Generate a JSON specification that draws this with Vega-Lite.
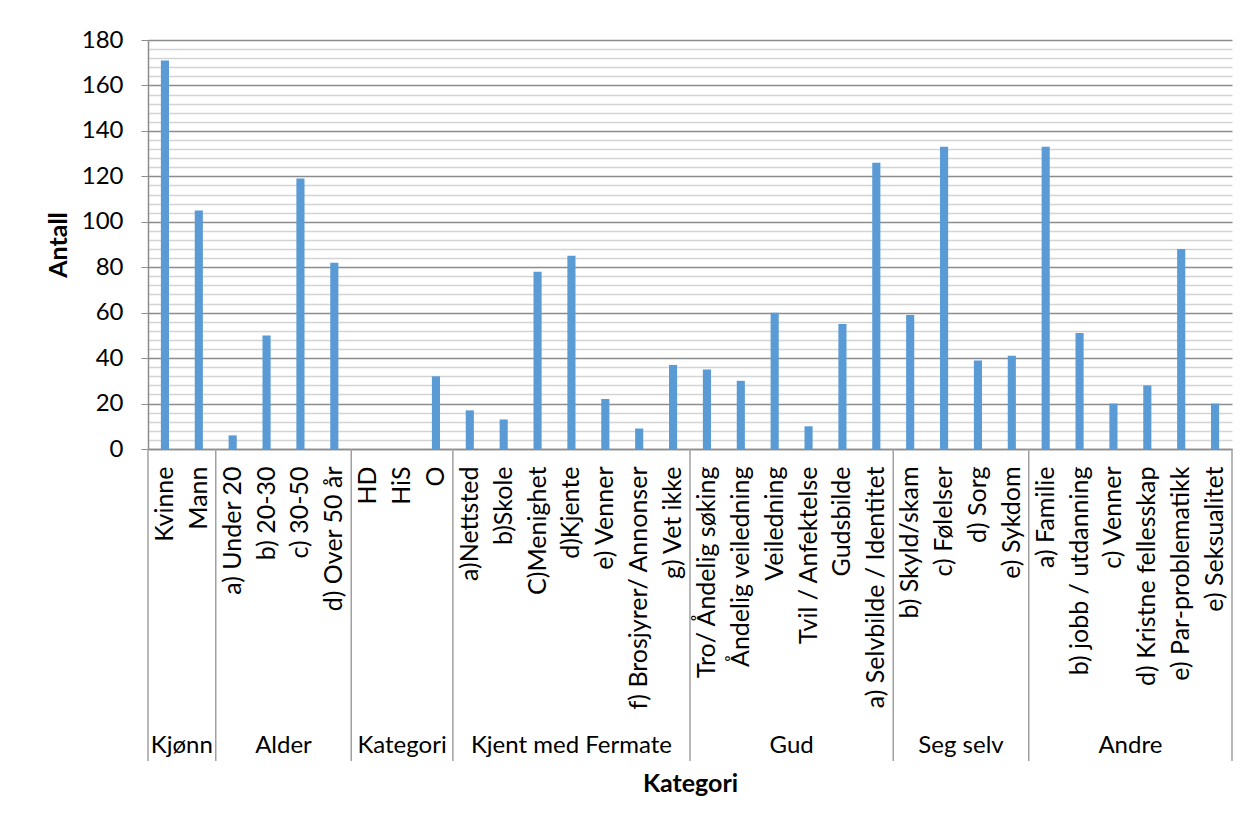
{
  "$schema": "https://vega.github.io/schema/vega-lite/v6.json",
  "width": 1084,
  "height": 409,
  "autosize": {"type": "none"},
  "padding": {"left": 148, "top": 40, "right": 20, "bottom": 376},
  "background": "white",
  "config": {
    "font": "Lato",
    "view": {"stroke": null}
  },
  "resolve": {"axis": {"x": "independent", "y": "independent"}},
  "datasets": {
    "antall": [
      {"gruppe": "Kjønn", "kategori": "Kvinne", "antall": 171},
      {"gruppe": "Kjønn", "kategori": "Mann", "antall": 105},
      {"gruppe": "Alder", "kategori": "a) Under 20", "antall": 6},
      {"gruppe": "Alder", "kategori": "b) 20-30", "antall": 50},
      {"gruppe": "Alder", "kategori": "c) 30-50", "antall": 119},
      {"gruppe": "Alder", "kategori": "d) Over 50 år", "antall": 82},
      {"gruppe": "Kategori", "kategori": "HD", "antall": 0},
      {"gruppe": "Kategori", "kategori": "HiS", "antall": 0},
      {"gruppe": "Kategori", "kategori": "O", "antall": 32},
      {"gruppe": "Kjent med Fermate", "kategori": "a)Nettsted", "antall": 17},
      {"gruppe": "Kjent med Fermate", "kategori": "b)Skole", "antall": 13},
      {"gruppe": "Kjent med Fermate", "kategori": "C)Menighet", "antall": 78},
      {"gruppe": "Kjent med Fermate", "kategori": "d)Kjente", "antall": 85},
      {"gruppe": "Kjent med Fermate", "kategori": "e) Venner", "antall": 22},
      {"gruppe": "Kjent med Fermate", "kategori": "f) Brosjyrer/ Annonser", "antall": 9},
      {"gruppe": "Kjent med Fermate", "kategori": "g) Vet ikke", "antall": 37},
      {"gruppe": "Gud", "kategori": "Tro/ Åndelig søking", "antall": 35},
      {"gruppe": "Gud", "kategori": "Åndelig veiledning", "antall": 30},
      {"gruppe": "Gud", "kategori": "Veiledning", "antall": 60},
      {"gruppe": "Gud", "kategori": "Tvil / Anfektelse", "antall": 10},
      {"gruppe": "Gud", "kategori": "Gudsbilde", "antall": 55},
      {"gruppe": "Gud", "kategori": "a) Selvbilde / Identitet", "antall": 126},
      {"gruppe": "Seg selv", "kategori": "b) Skyld/skam", "antall": 59},
      {"gruppe": "Seg selv", "kategori": "c) Følelser", "antall": 133},
      {"gruppe": "Seg selv", "kategori": "d) Sorg", "antall": 39},
      {"gruppe": "Seg selv", "kategori": "e) Sykdom", "antall": 41},
      {"gruppe": "Andre", "kategori": "a) Familie", "antall": 133},
      {"gruppe": "Andre", "kategori": "b) jobb  / utdanning", "antall": 51},
      {"gruppe": "Andre", "kategori": "c) Venner", "antall": 20},
      {"gruppe": "Andre", "kategori": "d) Kristne fellesskap", "antall": 28},
      {"gruppe": "Andre", "kategori": "e) Par-problematikk", "antall": 88},
      {"gruppe": "Andre", "kategori": "e) Seksualitet", "antall": 20}
    ],
    "gruppestart": [
      {"kategori": "Kvinne"},
      {"kategori": "a) Under 20"},
      {"kategori": "HD"},
      {"kategori": "a)Nettsted"},
      {"kategori": "Tro/ Åndelig søking"},
      {"kategori": "b) Skyld/skam"},
      {"kategori": "a) Familie"}
    ],
    "gruppeslutt": [
      {"kategori": "e) Seksualitet"}
    ],
    "gruppenavn_par": [
      {"gruppe": "Kjønn", "kategori": "Mann"},
      {"gruppe": "Alder", "kategori": "c) 30-50"},
      {"gruppe": "Gud", "kategori": "Tvil / Anfektelse"},
      {"gruppe": "Seg selv", "kategori": "d) Sorg"},
      {"gruppe": "Andre", "kategori": "d) Kristne fellesskap"}
    ],
    "gruppenavn_odde": [
      {"gruppe": "Kategori", "kategori": "HiS"},
      {"gruppe": "Kjent med Fermate", "kategori": "d)Kjente"}
    ]
  },
  "layer": [
    {
      "data": {"name": "antall"},
      "mark": {"type": "bar", "color": "#5B9BD5", "width": {"band": 0.24}},
      "encoding": {
        "x": {
          "field": "kategori",
          "type": "nominal",
          "sort": null,
          "scale": {
            "paddingInner": 0,
            "paddingOuter": 0,
            "domain": ["Kvinne", "Mann", "a) Under 20", "b) 20-30", "c) 30-50", "d) Over 50 år", "HD", "HiS", "O", "a)Nettsted", "b)Skole", "C)Menighet", "d)Kjente", "e) Venner", "f) Brosjyrer/ Annonser", "g) Vet ikke", "Tro/ Åndelig søking", "Åndelig veiledning", "Veiledning", "Tvil / Anfektelse", "Gudsbilde", "a) Selvbilde / Identitet", "b) Skyld/skam", "c) Følelser", "d) Sorg", "e) Sykdom", "a) Familie", "b) jobb  / utdanning", "c) Venner", "d) Kristne fellesskap", "e) Par-problematikk", "e) Seksualitet"]
          },
          "axis": {
            "title": "Kategori",
            "titleFontSize": 25,
            "titleFontWeight": "bold",
            "titleColor": "#000000",
            "titleY": 334,
            "titleBaseline": "middle",
            "labelAngle": -90,
            "labelFontSize": 25,
            "labelColor": "#000000",
            "labelLimit": 400,
            "labelPadding": 17,
            "ticks": false,
            "tickSize": 0,
            "domainColor": "#8c8c8c",
            "domainWidth": 1.5
          }
        },
        "y": {
          "field": "antall",
          "type": "quantitative",
          "scale": {"domain": [0, 180], "nice": false, "zero": true},
          "axis": {
            "title": "Antall",
            "titleFontSize": 25,
            "titleFontWeight": "bold",
            "titleColor": "#000000",
            "titlePadding": 10,
            "values": [0, 4, 8, 12, 16, 20, 24, 28, 32, 36, 40, 44, 48, 52, 56, 60, 64, 68, 72, 76, 80, 84, 88, 92, 96, 100, 104, 108, 112, 116, 120, 124, 128, 132, 136, 140, 144, 148, 152, 156, 160, 164, 168, 172, 176, 180],
            "labelExpr": "datum.value % 20 === 0 ? datum.label : ''",
            "labelOverlap": false,
            "labelFontSize": 24,
            "labelColor": "#000000",
            "labelPadding": 18,
            "tickSize": 7,
            "tickColor": "#8c8c8c",
            "tickOpacity": {"condition": {"test": "datum.value % 20 === 0", "value": 1}, "value": 0},
            "grid": true,
            "gridColor": {"condition": {"test": "datum.value % 20 === 0", "value": "#8c8c8c"}, "value": "#d4d4d4"},
            "gridWidth": 1.5,
            "domainColor": "#8c8c8c",
            "domainWidth": 1.5
          }
        }
      }
    },
    {
      "data": {"name": "gruppestart"},
      "mark": {"type": "rule", "color": "#a0a0a0", "strokeWidth": 1.5},
      "encoding": {
        "x": {"field": "kategori", "type": "nominal", "bandPosition": 0, "axis": null},
        "y": {"datum": 0, "type": "quantitative", "scale": {"domain": [0, 180], "nice": false}, "axis": null},
        "y2": {"datum": -137.3}
      }
    },
    {
      "data": {"name": "gruppeslutt"},
      "mark": {"type": "rule", "color": "#a0a0a0", "strokeWidth": 1.5},
      "encoding": {
        "x": {"field": "kategori", "type": "nominal", "bandPosition": 1, "axis": null},
        "y": {"datum": 0, "type": "quantitative", "scale": {"domain": [0, 180], "nice": false}, "axis": null},
        "y2": {"datum": -137.3}
      }
    },
    {
      "data": {"name": "gruppenavn_par"},
      "mark": {"type": "text", "fontSize": 24, "color": "#000000", "align": "center", "baseline": "alphabetic"},
      "encoding": {
        "x": {"field": "kategori", "type": "nominal", "bandPosition": 0, "axis": null},
        "y": {"datum": -133.8, "type": "quantitative", "scale": {"domain": [0, 180], "nice": false}, "axis": null},
        "text": {"field": "gruppe"}
      }
    },
    {
      "data": {"name": "gruppenavn_odde"},
      "mark": {"type": "text", "fontSize": 24, "color": "#000000", "align": "center", "baseline": "alphabetic"},
      "encoding": {
        "x": {"field": "kategori", "type": "nominal", "bandPosition": 0.5, "axis": null},
        "y": {"datum": -133.8, "type": "quantitative", "scale": {"domain": [0, 180], "nice": false}, "axis": null},
        "text": {"field": "gruppe"}
      }
    }
  ]
}
